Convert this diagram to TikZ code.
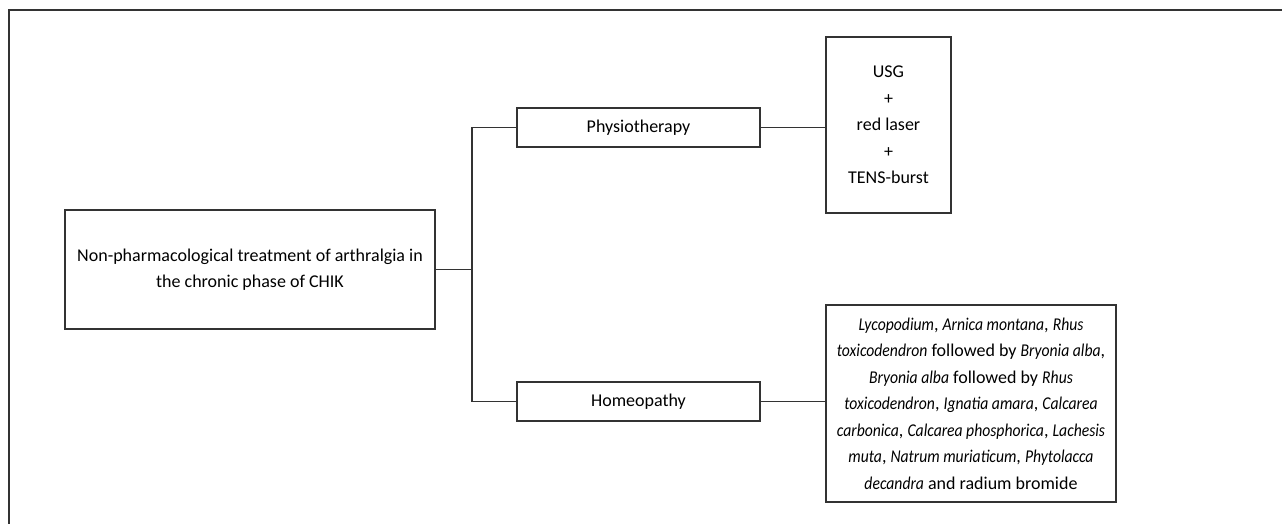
\documentclass[tikz,border=0pt]{standalone}
\usepackage{fontspec}
\setmainfont{Carlito}[ItalicFeatures={FakeStretch=0.87}]
\begin{document}
\begin{tikzpicture}[x=1pt,y=-1pt,
  box/.style={draw=black!80,line width=1.5pt,rectangle,align=center,inner sep=0pt,
    font=\fontsize{18}{26.5}\selectfont},
  link/.style={draw=black!80,line width=1.8pt}]
\useasboundingbox (0,0) rectangle (1282,524);
\draw[link] (1282,10) -- (9,10) -- (9,524);
\node[box,minimum width=370pt,minimum height=119pt] (main) at (250,269.5)
  {Non-pharmacological treatment of arthralgia in\\the chronic phase of CHIK};
\node[box,minimum width=243pt,minimum height=39pt] (phys) at (638.5,127.5) {Physiotherapy};
\node[box,minimum width=243pt,minimum height=39pt] (homeo) at (638.5,401.5) {Homeopathy};
\node[box,minimum width=125pt,minimum height=176pt] (usg) at (888.5,125)
  {USG\\+\\red laser\\+\\TENS-burst};
\node[box,minimum width=290pt,minimum height=197pt] (list) at (971,403.5)
  {\textit{Lycopodium}, \textit{Arnica montana}, \textit{Rhus}\\
   \textit{toxicodendron} followed by \textit{Bryonia alba},\\
   \textit{Bryonia alba} followed by \textit{Rhus}\\
   \textit{toxicodendron}, \textit{Ignatia amara}, \textit{Calcarea}\\
   \textit{carbonica}, \textit{Calcarea phosphorica}, \textit{Lachesis}\\
   \textit{muta}, \textit{Natrum muriaticum}, \textit{Phytolacca}\\
   \textit{decandra} and radium bromide};
\coordinate (j) at (472,269.5);
\draw[link] (main.east) -- (j);
\draw[link] (phys.west) -| (j) |- (homeo.west);
\draw[link] (phys.east) -- (phys.east -| usg.west);
\draw[link] (homeo.east) -- (homeo.east -| list.west);
\end{tikzpicture}
\end{document}
